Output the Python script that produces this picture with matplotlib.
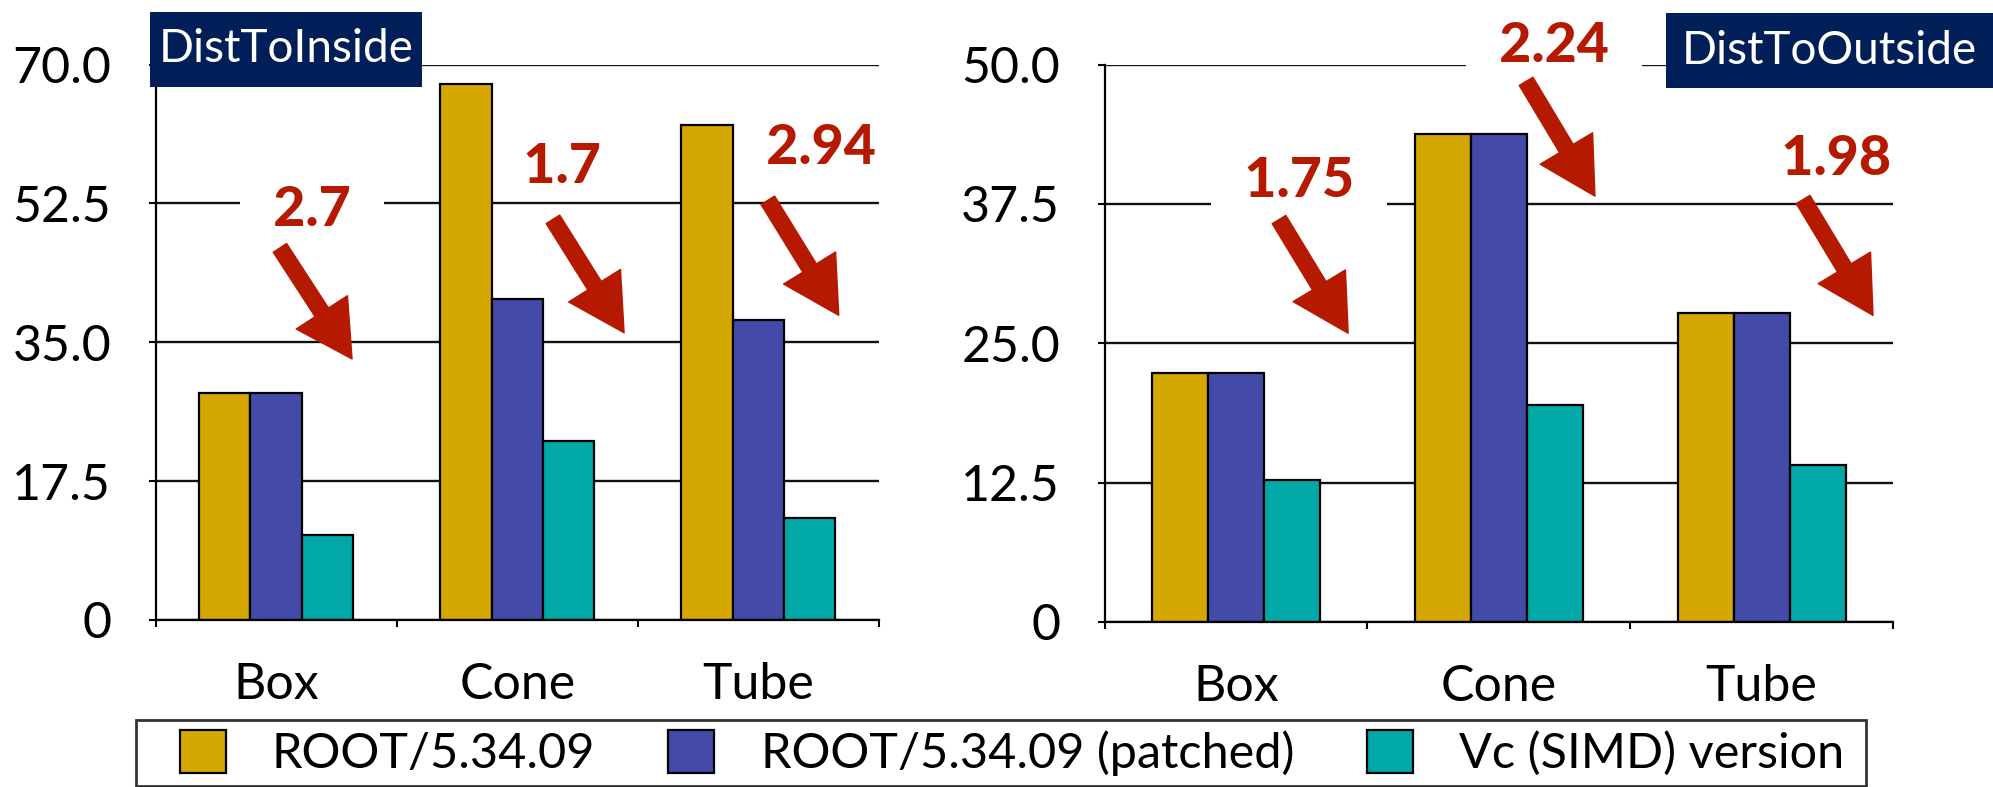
import matplotlib
matplotlib.use("Agg")
import matplotlib.pyplot as plt
from matplotlib.patches import Rectangle, FancyArrowPatch, Patch
import numpy as np

# ---------------- data ----------------
categories = ["Box", "Cone", "Tube"]
series_names = ["ROOT/5.34.09", "ROOT/5.34.09 (patched)", "Vc (SIMD) version"]

inside_root = [28.6, 67.6, 62.4]
inside_patched = [28.6, 40.5, 37.8]
inside_vc = [10.7, 22.6, 12.8]
inside_speedup = ["2.7", "1.7", "2.94"]
inside_ticks = [0, 17.5, 35.0, 52.5, 70.0]
inside_ticklabels = ["0", "17.5", "35.0", "52.5", "70.0"]

outside_root = [22.35, 43.8, 27.7]
outside_patched = [22.3, 43.8, 27.7]
outside_vc = [12.7, 19.5, 14.1]
outside_speedup = ["1.75", "2.24", "1.98"]
outside_ticks = [0, 12.5, 25.0, 37.5, 50.0]
outside_ticklabels = ["0", "12.5", "25.0", "37.5", "50.0"]

# ---------------- style ----------------
W, H = 1993, 787
DPI = 100
FONT = "Lato"
plt.rcParams["font.family"] = [FONT, "DejaVu Sans"]
colors = ["#D4A800", "#434AA8", "#00A8A8"]
navy = "#001E57"
red = "#B51A00"

fig = plt.figure(figsize=(W / DPI, H / DPI), dpi=DPI)

def px_axes(x0, x1, ytop, ybot):
    return fig.add_axes([x0 / W, 1 - ybot / H, (x1 - x0) / W, (ybot - ytop) / H])

ax1 = px_axes(155.5, 879, 64.6, 620)
ax2 = px_axes(1104.5, 1893, 64.6, 622)

bw = 0.213
offsets = [-bw, 0, bw]

def draw_panel(ax, series, ticks, ticklabels, speedups, text_pos, arrows):
    x = np.arange(len(categories))
    for vals, off, c in zip(series, offsets, colors):
        ax.bar(x + off, vals, width=bw, color=c, edgecolor="black",
               linewidth=1.6, zorder=3)
    ax.set_xlim(-0.5, len(categories) - 0.5)
    ax.set_ylim(ticks[0], ticks[-1])
    ax.set_yticks(ticks)
    ax.set_yticklabels(ticklabels)
    ax.set_xticks(x)
    ax.set_xticklabels(categories)
    ax.set_xticks(np.arange(-0.5, len(categories), 1.0), minor=True)
    ax.tick_params(axis="x", which="major", length=0, pad=30, labelsize=36)
    ax.tick_params(axis="x", which="minor", length=5, width=1.5, direction="out")
    ax.tick_params(axis="y", length=5, width=1.5, pad=27, labelsize=36)
    for s in ["top", "right"]:
        ax.spines[s].set_visible(False)
    for s in ["left", "bottom"]:
        ax.spines[s].set_linewidth(1.6)
        ax.spines[s].set_zorder(4)
    ax.grid(axis="y", color="#111111", linewidth=1.7, zorder=1)
    ax.set_axisbelow(True)
    for lab, (tx, ty), ((xa, ya), (xb, yb)) in zip(speedups, text_pos, arrows):
        ax.text(tx, ty, "  " + lab + "  ", color=red, fontsize=40, fontweight=900,
                ha="center", va="center", zorder=2,
                bbox=dict(boxstyle="square,pad=0.12", fc="white", ec="none"))
        arr = FancyArrowPatch((xa, ya), (xb, yb),
                              arrowstyle="simple,head_length=40,head_width=44,tail_width=11.5",
                              mutation_scale=1, color=red, shrinkA=0, shrinkB=0,
                              zorder=7)
        ax.add_patch(arr)

draw_panel(ax1, [inside_root, inside_patched, inside_vc], inside_ticks,
           inside_ticklabels, inside_speedup,
           [(0.149, 51.7), (1.185, 57.1), (2.259, 59.5)],
           [((0.016, 46.9), (0.315, 32.9)),
            ((1.148, 50.5), (1.443, 36.2)),
            ((2.039, 52.9), (2.333, 38.4))])
draw_panel(ax2, [outside_root, outside_patched, outside_vc], outside_ticks,
           outside_ticklabels, outside_speedup,
           [(0.240, 39.6), (1.210, 51.7), (2.283, 41.5)],
           [((0.164, 36.1), (0.427, 25.9)),
            ((1.104, 48.5), (1.366, 38.2)),
            ((2.158, 37.9), (2.424, 27.5))])

# title boxes
def title_box(x0, x1, ytop, ybot, label):
    r = Rectangle((x0 / W, 1 - ybot / H), (x1 - x0) / W, (ybot - ytop) / H,
                  transform=fig.transFigure, facecolor=navy, edgecolor="none",
                  zorder=5)
    fig.patches.append(r)
    fig.text((x0 + x1) / 2 / W, 1 - (ytop + ybot) / 2 / H, label, color="white",
             fontsize=33, ha="center", va="center", zorder=6)

title_box(150, 422, 12, 87, "DistToInside")
title_box(1666, 1993, 13, 88, "DistToOutside")

# legend (frame drawn separately)
handles = [Patch(facecolor=c, edgecolor="black", linewidth=1.6) for c in colors]
leg = fig.legend(handles, series_names, loc="center",
                 bbox_to_anchor=(1012 / W, 1 - 753 / H), ncol=3, fontsize=35,
                 frameon=False, handlelength=0.95, handleheight=1.0,
                 handletextpad=0.95, columnspacing=1.5, borderpad=0.15,
                 borderaxespad=0)
frame = Rectangle((136 / W, 1 - 786 / H), (1866 - 136) / W, (786 - 720) / H,
                  transform=fig.transFigure, facecolor="none",
                  edgecolor="#333333", linewidth=2, zorder=5)
fig.patches.append(frame)

fig.savefig("out.png", dpi=DPI)
